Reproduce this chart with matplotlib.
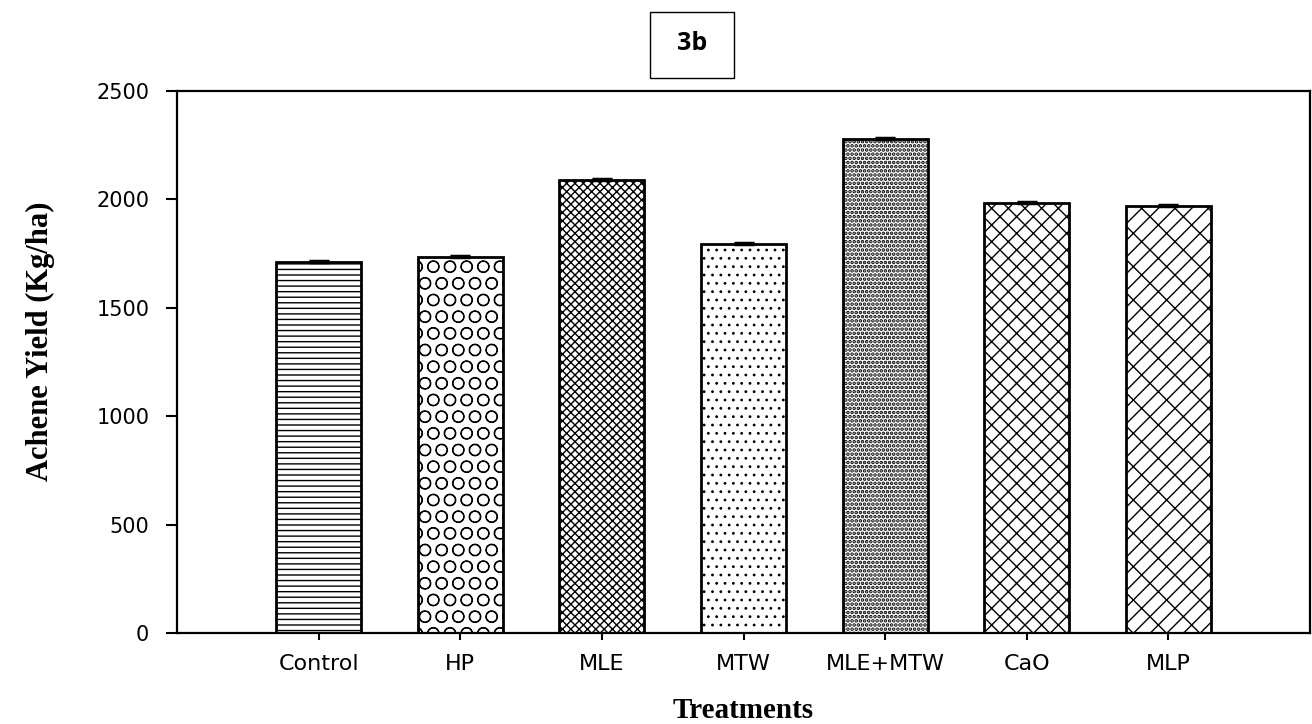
import matplotlib
matplotlib.use("Agg")
import matplotlib.pyplot as plt
from matplotlib.patches import Rectangle
import numpy as np

treatments = ["Control", "HP", "MLE", "MTW", "MLE+MTW", "CaO", "MLP"]
yield_kg_ha = [1712, 1735, 2090, 1793, 2278, 1985, 1968]
yield_err = [5, 6, 5, 5, 5, 4, 5]
hatches = ["---", "O", "xxxx", "..", "....", "xx", "//\\"]
hatch_widths = [1.0, 0.8, 1.0, 0.8, 1.8, 1.0, 1.0]
y_ticks = [0, 500, 1000, 1500, 2000, 2500]

plt.rcParams["hatch.linewidth"] = 1.0
plt.rcParams["hatch.color"] = "black"

fig = plt.figure(figsize=(13.12, 7.24), dpi=100)
ax = fig.add_axes([177 / 1312, 1 - 633 / 724, (1310 - 177) / 1312, (633 - 91) / 724])

x = np.arange(len(treatments))
bars = ax.bar(x, yield_kg_ha, width=0.6, color="white", edgecolor="black",
              linewidth=2.0, zorder=2)
for b, h, hw in zip(bars, hatches, hatch_widths):
    b.set_hatch(h)
    if hasattr(b, "set_hatch_linewidth"):
        b.set_hatch_linewidth(hw)

ax.errorbar(x, yield_kg_ha, yerr=[np.zeros(len(x)), yield_err], fmt="none",
            ecolor="black", elinewidth=2, capsize=7.5, capthick=2.5, zorder=3)

ax.set_xlim(-1, 7)
ax.set_ylim(0, 2500)
ax.set_yticks(y_ticks)
ax.set_yticklabels([str(v) for v in y_ticks], fontsize=15, family="DejaVu Sans")
ax.set_xticks(x)
ax.set_xticklabels(treatments, fontsize=16, family="DejaVu Sans")
ax.tick_params(axis="y", direction="out", length=8, width=1.5, pad=12)
ax.tick_params(axis="x", direction="out", length=5, width=1.5, pad=10)
for s in ax.spines.values():
    s.set_linewidth(1.6)

fig.text(40 / 1312, 1 - 341 / 724, "Achene Yield (Kg/ha)", rotation=90,
         ha="center", va="center", fontsize=22, fontweight="bold",
         family="Liberation Serif")
fig.text(743 / 1312, 1 - 710 / 724, "Treatments", ha="center", va="center",
         fontsize=21, fontweight="bold", family="Liberation Serif")

# panel label in a framed box
fig.patches.append(Rectangle((650 / 1312, 1 - 78 / 724), 84 / 1312, 66 / 724,
                             transform=fig.transFigure, fill=False,
                             edgecolor="black", linewidth=1.0))
fig.text(692 / 1312, 1 - 43 / 724, "3b", ha="center", va="center",
         fontsize=18, fontweight="bold", family="Open Sans")

fig.savefig("out.png", dpi=100)
